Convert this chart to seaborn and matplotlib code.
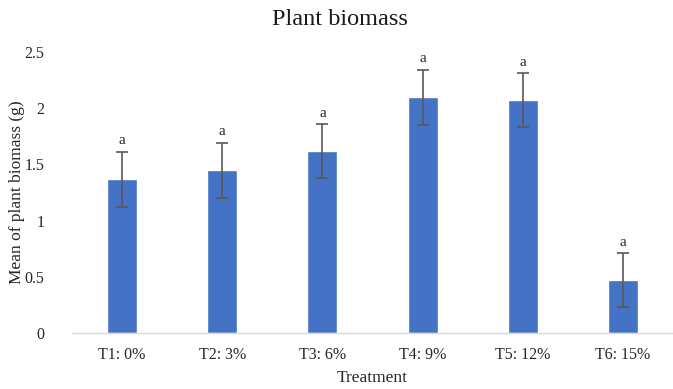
import matplotlib
matplotlib.use("Agg")
import matplotlib.pyplot as plt
import seaborn as sns
import pandas as pd

treatments = ["T1: 0%", "T2: 3%", "T3: 6%", "T4: 9%", "T5: 12%", "T6: 15%"]
means = [1.37, 1.45, 1.62, 2.10, 2.07, 0.47]
errors = [0.245, 0.245, 0.24, 0.245, 0.24, 0.24]
letters = ["a", "a", "a", "a", "a", "a"]
yticks = [0, 0.5, 1, 1.5, 2, 2.5]
ytick_labels = ["0", "0.5", "1", "1.5", "2", "2.5"]

sns.set_style("white")
plt.rcParams["font.family"] = ["Liberation Serif", "DejaVu Serif"]

df = pd.DataFrame({"Treatment": treatments, "Mean": means})

fig = plt.figure(figsize=(6.73, 3.89), dpi=100)
ax = fig.add_axes([0.107, 0.144, 0.893, 0.722])
sns.barplot(data=df, x="Treatment", y="Mean", color="#4472C4", width=0.3,
            saturation=1, ax=ax, errorbar=None)
xs = list(range(len(treatments)))
ax.errorbar(xs, means, yerr=errors, fmt="none", ecolor="#595959",
            elinewidth=1.2, capsize=4, capthick=1.2)
for x, m, e, l in zip(xs, means, errors, letters):
    ax.text(x, m + e + 0.04, l, ha="center", va="bottom", fontsize=11, color="#262626")

ax.set_ylim(0, 2.5)
ax.set_xlim(-0.5, len(treatments) - 0.5)
ax.set_yticks(yticks)
ax.set_yticklabels(ytick_labels)
ax.tick_params(axis="both", length=0, labelsize=11.5, colors="#262626")
ax.tick_params(axis="x", pad=10)
ax.tick_params(axis="y", pad=20)
for s in ["top", "right", "left"]:
    ax.spines[s].set_visible(False)
ax.spines["bottom"].set_color("#D9D9D9")
ax.spines["bottom"].set_linewidth(1)
ax.set_xlabel("Treatment", fontsize=12.5, color="#262626")
ax.set_ylabel("Mean of plant biomass (g)", fontsize=12.5, color="#262626")
ax.xaxis.set_label_coords(0.5, -0.16)
ax.yaxis.set_label_coords(-0.092, 0.5)
ax.xaxis.label.set_va("center")
ax.yaxis.label.set_va("center")
fig.text(0.505, 0.949, "Plant biomass", fontsize=17.5, ha="center", va="center", color="#1a1a1a")

fig.savefig("out.png", dpi=100)
